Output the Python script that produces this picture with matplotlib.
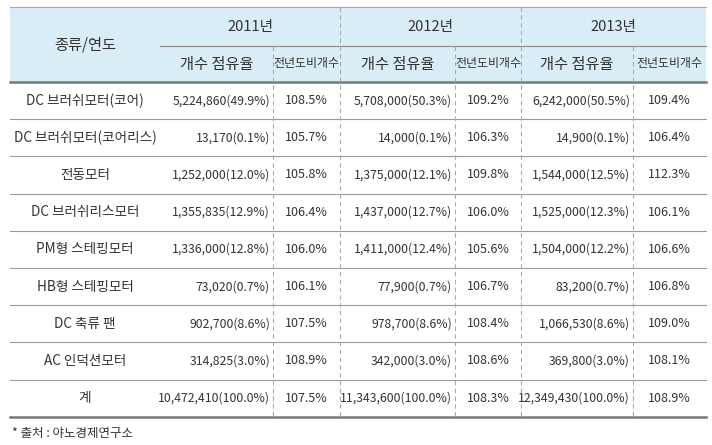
import matplotlib
matplotlib.use('Agg')
from matplotlib import pyplot as plt

plt.rcParams['font.family'] = ['Noto Sans CJK KR', 'DejaVu Sans']

# --- table data ---
years = ['2011년', '2012년', '2013년']
categories = ['DC 브러쉬모터(코어)', 'DC 브러쉬모터(코어리스)', '전동모터', 'DC 브러쉬리스모터',
              'PM형 스테핑모터', 'HB형 스테핑모터', 'DC 축류 팬', 'AC 인덕션모터', '계']

counts_2011 = ['5,224,860(49.9%)', '13,170(0.1%)', '1,252,000(12.0%)', '1,355,835(12.9%)',
               '1,336,000(12.8%)', '73,020(0.7%)', '902,700(8.6%)', '314,825(3.0%)',
               '10,472,410(100.0%)']
growth_2011 = ['108.5%', '105.7%', '105.8%', '106.4%', '106.0%', '106.1%', '107.5%', '108.9%', '107.5%']

counts_2012 = ['5,708,000(50.3%)', '14,000(0.1%)', '1,375,000(12.1%)', '1,437,000(12.7%)',
               '1,411,000(12.4%)', '77,900(0.7%)', '978,700(8.6%)', '342,000(3.0%)',
               '11,343,600(100.0%)']
growth_2012 = ['109.2%', '106.3%', '109.8%', '106.0%', '105.6%', '106.7%', '108.4%', '108.6%', '108.3%']

counts_2013 = ['6,242,000(50.5%)', '14,900(0.1%)', '1,544,000(12.5%)', '1,525,000(12.3%)',
               '1,504,000(12.2%)', '83,200(0.7%)', '1,066,530(8.6%)', '369,800(3.0%)',
               '12,349,430(100.0%)']
growth_2013 = ['109.4%', '106.4%', '112.3%', '106.1%', '106.6%', '106.8%', '109.0%', '108.1%', '108.9%']

header_left = '종류/연도'
sub_headers = ['개수 점유율', '전년도비개수']
source = '* 출처 : 야노경제연구소'

counts = [counts_2011, counts_2012, counts_2013]
growths = [growth_2011, growth_2012, growth_2013]

# layout in pixel coordinates
x0, x1 = 10, 706
col_first = 160
year_edges = [160, 340, 521, 706]
sub_split = [273, 455, 633]
y_top, y_mid, y_head = 7, 46, 82
row_h = 37.2
y_bot = y_head + row_h * len(categories)

txt = '#333333'

fig = plt.figure(figsize=(7.12, 4.45), dpi=100)
ax = fig.add_axes([0, 0, 1, 1])
ax.set_xlim(0, 712)
ax.set_ylim(445, 0)
ax.axis('off')

# header background
ax.add_patch(plt.Rectangle((x0, y_top), x1 - x0, y_head - y_top, color='#d8edf5', lw=0))
ax.plot([x0, x1], [y_top, y_top], color='#aaaaaa', lw=0.8)
ax.plot([col_first, x1], [y_mid, y_mid], color='#8a8a8a', lw=0.8)
ax.plot([x0, x1], [y_head, y_head], color='#777777', lw=1.8)
ax.plot([x0, x1], [y_bot, y_bot], color='#777777', lw=1.8)
for i in range(1, len(categories)):
    y = y_head + row_h * i
    ax.plot([x0, x1], [y, y], color='#9a9a9a', lw=0.8)

# dashed dividers
for x in year_edges[1:-1]:
    ax.plot([x, x], [y_top, y_bot], color='#aaaaaa', lw=0.8, ls=(0, (4, 3)))
for x in sub_split:
    ax.plot([x, x], [y_mid, y_bot], color='#aaaaaa', lw=0.8, ls=(0, (4, 3)))

# header text
ax.text((x0 + col_first) / 2, (y_top + y_head) / 2, header_left, ha='center', va='center',
        fontsize=11, color=txt)
for j, yr in enumerate(years):
    ax.text((year_edges[j] + year_edges[j + 1]) / 2, (y_top + y_mid) / 2, yr,
            ha='center', va='center', fontsize=10.5, color=txt)
    ax.text((year_edges[j] + sub_split[j]) / 2, (y_mid + y_head) / 2, sub_headers[0],
            ha='center', va='center', fontsize=11, color=txt)
    ax.text((sub_split[j] + year_edges[j + 1]) / 2, (y_mid + y_head) / 2, sub_headers[1],
            ha='center', va='center', fontsize=8.6, color=txt)

# body
for i, cat in enumerate(categories):
    yc = y_head + row_h * (i + 0.5)
    ax.text((x0 + col_first) / 2, yc, cat, ha='center', va='center', fontsize=9.8, color=txt)
    for j in range(3):
        ax.text(sub_split[j] - 3, yc, counts[j][i], ha='right', va='center',
                fontsize=8.8, color=txt)
        ax.text((sub_split[j] + year_edges[j + 1]) / 2, yc, growths[j][i], ha='center',
                va='center', fontsize=9, color=txt)

ax.text(12, 434, source, ha='left', va='center', fontsize=9, color=txt)

fig.savefig('out.png', dpi=100)
